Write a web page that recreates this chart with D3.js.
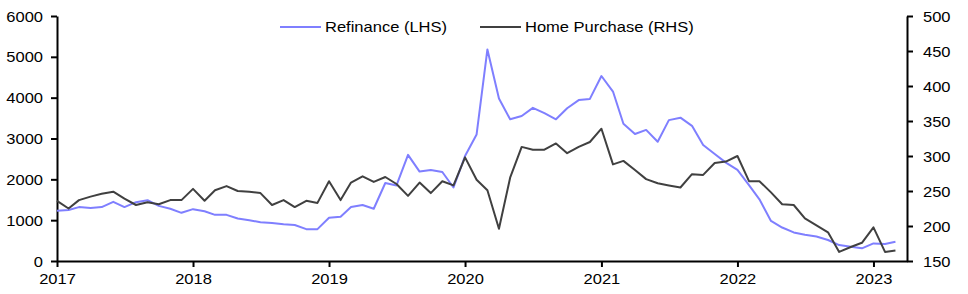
<!DOCTYPE html>
<html>
<head>
<meta charset="utf-8">
<script src="https://cdn.jsdelivr.net/npm/d3@7"></script>
<style>
  body { margin: 0; background: #fff; }
  svg text { font-family: "Liberation Sans", Arial, sans-serif; font-size: 14px; fill: #000; }
</style>
</head>
<body>
<svg></svg>
<script>
// monthly data, Jan 2017 - Mar 2023
const firstMonth = "2017-01-01";
const refinance = [
  1230, 1250, 1320, 1300, 1320, 1450, 1320, 1440, 1490, 1350, 1280, 1180,
  1270, 1220, 1130, 1130, 1040, 1000, 950, 930, 900, 880, 780, 780,
  1060, 1085, 1320, 1370, 1280, 1910, 1850, 2600, 2190, 2230, 2180, 1800,
  2570, 3100, 5180, 3980, 3470, 3550, 3750, 3620, 3470, 3740, 3940, 3970,
  4530, 4150, 3360, 3110, 3210, 2920, 3450, 3510, 3310, 2840, 2620, 2410,
  2230, 1860, 1510, 980, 820, 700, 645, 600, 515, 390, 350, 310,
  430, 415, 470
];
const homePurchase = [
  236, 225, 237, 242, 246, 249, 239, 230, 234, 231, 237, 237,
  253, 236, 251, 257, 250, 249, 247, 230, 237, 227, 236, 233,
  264, 237, 262, 271, 263, 270, 260, 243, 262, 247, 264, 258,
  298, 266, 251, 196, 269, 313, 309, 309, 318, 304, 313, 320,
  339, 288, 293, 280, 267, 261, 258, 255, 274, 273, 290, 292,
  300, 264, 264, 248, 231, 230, 211, 201, 191, 163, 170, 176,
  198, 163, 165
];
const yearTicks = [2017, 2018, 2019, 2020, 2021, 2022, 2023];
const leftTicks = [0, 1000, 2000, 3000, 4000, 5000, 6000];
const rightTicks = [150, 200, 250, 300, 350, 400, 450, 500];
const seriesNames = ["Refinance (LHS)", "Home Purchase (RHS)"];
const seriesColors = ["#7f7fff", "#404040"];

const W = 968, H = 294;
const margin = { top: 16, right: 61, bottom: 33, left: 57 };
const width = W - margin.left - margin.right;
const height = H - margin.top - margin.bottom;
const sx = 1.18; // text in the original is stretched horizontally

const svg = d3.select("svg").attr("width", W).attr("height", H);
const g = svg.append("g").attr("transform", `translate(${margin.left},${margin.top})`);

const start = new Date(firstMonth + "T00:00:00");
const dates = refinance.map((_, i) => d3.timeMonth.offset(start, i));

const x = d3.scaleTime()
  .domain([start, new Date(2023, 3, 1)])
  .range([0, width]);
const yL = d3.scaleLinear().domain([0, 6000]).range([height, 0]);
const yR = d3.scaleLinear().domain([150, 500]).range([height, 0]);

function styleAxis(sel) {
  sel.select(".domain").attr("stroke", "#000").attr("stroke-width", 2);
  sel.selectAll(".tick line").attr("stroke", "#000").attr("stroke-width", 2);
  sel.selectAll(".tick text").attr("fill", "#000")
    .style("font-family", null).style("font-size", null)
    .attr("font-family", null).attr("font-size", null);
}

const xAxis = g.append("g")
  .attr("transform", `translate(0,${height})`)
  .call(d3.axisBottom(x)
    .tickValues(yearTicks.map(yr => new Date(yr, 0, 1)))
    .tickFormat(d3.timeFormat("%Y"))
    .tickSize(6).tickSizeOuter(0));
styleAxis(xAxis);
xAxis.attr("font-family", null).attr("font-size", null);
xAxis.selectAll(".tick text").attr("y", 23.5).attr("dy", 0)
  .attr("transform", `scale(${sx},1)`);

const leftAxis = g.append("g")
  .call(d3.axisLeft(yL).tickValues(leftTicks).tickFormat(d3.format("d"))
    .tickSize(6).tickSizeOuter(0));
styleAxis(leftAxis);
leftAxis.attr("font-family", null).attr("font-size", null);
leftAxis.selectAll(".tick text").attr("x", -14 / sx).attr("dy", "0.36em")
  .attr("transform", `scale(${sx},1)`);

const rightAxis = g.append("g")
  .attr("transform", `translate(${width},0)`)
  .call(d3.axisRight(yR).tickValues(rightTicks).tickFormat(d3.format("d"))
    .tickSize(6).tickSizeOuter(0));
styleAxis(rightAxis);
rightAxis.attr("font-family", null).attr("font-size", null);
rightAxis.selectAll(".tick text").attr("x", 16 / sx).attr("dy", "0.36em")
  .attr("transform", `scale(${sx},1)`);

const lineL = d3.line().x((d, i) => x(dates[i])).y(d => yL(d));
const lineR = d3.line().x((d, i) => x(dates[i])).y(d => yR(d));

g.append("path")
  .datum(refinance)
  .attr("fill", "none")
  .attr("stroke", seriesColors[0])
  .attr("stroke-width", 2)
  .attr("stroke-linejoin", "round")
  .attr("d", lineL);

g.append("path")
  .datum(homePurchase)
  .attr("fill", "none")
  .attr("stroke", seriesColors[1])
  .attr("stroke-width", 2)
  .attr("stroke-linejoin", "round")
  .attr("d", lineR);

// legend
const legendPos = [280, 480];
const legend = svg.append("g").attr("transform", "translate(0,27)");
seriesNames.forEach((name, i) => {
  const item = legend.append("g").attr("transform", `translate(${legendPos[i]},0)`);
  item.append("line")
    .attr("x1", 0).attr("x2", 41)
    .attr("stroke", seriesColors[i]).attr("stroke-width", 2);
  item.append("text")
    .attr("x", 45 / sx).attr("dy", "0.36em")
    .attr("transform", `scale(${sx},1)`)
    .text(name);
});
</script>
</body>
</html>
